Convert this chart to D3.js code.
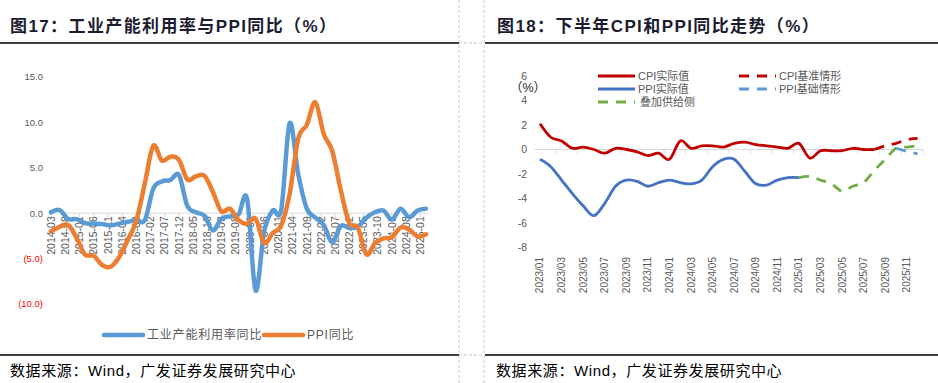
<!DOCTYPE html>
<html>
<head>
<meta charset="utf-8">
<script src="https://cdn.jsdelivr.net/npm/d3@7"></script>
<style>
body { margin: 0; background: #fff; }
svg { display: block; font-family: "Liberation Sans", Arial, "Noto Sans CJK SC", sans-serif; }
</style>
</head>
<body>
<svg id="chart" width="938" height="383"></svg>
<script>

// LEFT CHART DATA (quarterly)
let left_quarters = [
    "2014-03", "2014-06", "2014-09", "2014-12",
    "2015-03", "2015-06", "2015-09", "2015-12",
    "2016-03", "2016-06", "2016-09", "2016-12",
    "2017-03", "2017-06", "2017-09", "2017-12",
    "2018-03", "2018-06", "2018-09", "2018-12",
    "2019-03", "2019-06", "2019-09", "2019-12",
    "2020-03", "2020-06", "2020-09", "2020-12",
    "2021-03", "2021-06", "2021-09", "2021-12",
    "2022-03", "2022-06", "2022-09", "2022-12",
    "2023-03", "2023-06", "2023-09", "2023-12",
    "2024-03", "2024-06", "2024-09", "2024-12",
    "2025-03"
]

let capacity_yoy = [
    0.1, 0.35, -0.65, -0.65,
    -1.1, -1.15, -1.2, -1.35,
    -1.15, -0.95, -0.75, -0.75,
    2.7, 3.5, 3.65, 4.2,
    0.8, 0.1, -0.3, -1.9,
    -0.6, -0.35, -0.15, 1.6,
    -8.5, -2.0, 0.3, 0.4,
    9.9, 4.3, 0.5, -0.5,
    -1.3, -3.2, -1.4, -1.65,
    -1.5, -0.5, 0.1, 0.3,
    -0.7, 0.5, -0.45, 0.3,
    0.5
]

let ppi_yoy_q = [
    -2.0, -1.5, -1.3, -2.73,
    -4.57, -4.67, -5.73, -5.9,
    -4.83, -2.93, -0.8, 3.33,
    7.43, 5.8, 6.23, 5.87,
    3.7, 4.07, 4.1, 2.3,
    0.2, 0.5, -0.77, -1.17,
    -0.6, -3.27, -2.17, -1.33,
    2.13, 8.2, 9.73, 12.23,
    8.73, 6.83, 2.47, -1.1,
    -1.57, -4.53, -3.3, -2.77,
    -2.67, -1.57, -1.8, -2.57,
    -2.33
]

let left_tick_labels = [
    "2014-03", "2014-08", "2015-01", "2015-06", "2015-11", "2016-04", "2016-09",
    "2017-02", "2017-07", "2017-12", "2018-05", "2018-10", "2019-03", "2019-08",
    "2020-01", "2020-06", "2020-11", "2021-04", "2021-09", "2022-02", "2022-07",
    "2022-12", "2023-05", "2023-10", "2024-03", "2024-08", "2025-01"
]

let left_y_ticks = [15, 10, 5, 0, -5, -10]

// RIGHT CHART DATA (monthly)
let right_months = [
    "2023/01", "2023/02", "2023/03", "2023/04", "2023/05", "2023/06",
    "2023/07", "2023/08", "2023/09", "2023/10", "2023/11", "2023/12",
    "2024/01", "2024/02", "2024/03", "2024/04", "2024/05", "2024/06",
    "2024/07", "2024/08", "2024/09", "2024/10", "2024/11", "2024/12",
    "2025/01", "2025/02", "2025/03", "2025/04", "2025/05", "2025/06",
    "2025/07", "2025/08", "2025/09", "2025/10", "2025/11", "2025/12"
]

// CPI实际值 2023/01 - 2025/08
let cpi_actual = [
    2.1, 1.0, 0.7, 0.1, 0.2, 0.0, -0.3, 0.1, 0.0, -0.2, -0.5, -0.3,
    -0.8, 0.7, 0.1, 0.3, 0.3, 0.2, 0.5, 0.6, 0.4, 0.3, 0.2, 0.1,
    0.5, -0.7, -0.1, -0.1, -0.1, 0.1, 0.0, 0.0
]
// CPI基准情形 2025/08 - 2025/12
let cpi_base = [0.0, 0.3, 0.5, 0.8, 0.9]

// PPI实际值 2023/01 - 2025/01
let ppi_actual = [
    -0.8, -1.4, -2.5, -3.6, -4.6, -5.4, -4.4, -3.0, -2.5, -2.6, -3.0, -2.7,
    -2.5, -2.7, -2.8, -2.5, -1.4, -0.8, -0.8, -1.8, -2.8, -2.9, -2.5, -2.3,
    -2.3
]
// 叠加供给侧 2025/01 - 2025/12
let ppi_supply = [-2.3, -2.2, -2.5, -2.8, -3.4, -3.0, -2.7, -1.7, -0.8, 0.1, 0.2, 0.3]
// PPI基础情形 2025/10 - 2025/12
let ppi_base = [0.1, -0.15, -0.35]

let right_tick_labels = [
    "2023/01", "2023/03", "2023/05", "2023/07", "2023/09", "2023/11",
    "2024/01", "2024/03", "2024/05", "2024/07", "2024/09", "2024/11",
    "2025/01", "2025/03", "2025/05", "2025/07", "2025/09", "2025/11"
]

let right_y_ticks = [6, 4, 2, 0, -2, -4, -6, -8]


let svg = d3.select('#chart')

//PANEL FRAMES
function frame(){
    svg.append('g').selectAll('line')
        .data([[459, 0, 459, 383], [484, 0, 484, 383], [459, 43, 484, 43], [459, 355, 484, 355]])
        .join('line')
            .attr('x1', d => d[0]).attr('y1', d => d[1])
            .attr('x2', d => d[2]).attr('y2', d => d[3])
            .attr('stroke', '#c8c8c8')
            .attr('stroke-width', 1)
            .attr('stroke-dasharray', '3,2')

    let rules = [[0, 43, 459], [485, 43, 938], [0, 355, 459], [485, 355, 938]]
    svg.append('g').selectAll('line')
        .data(rules)
        .join('line')
            .attr('x1', d => d[0]).attr('x2', d => d[2])
            .attr('y1', d => d[1]).attr('y2', d => d[1])
            .attr('stroke', '#000')
            .attr('stroke-width', 1.6)

    let titles = [[10, '图17：工业产能利用率与PPI同比（%）'], [497, '图18：下半年CPI和PPI同比走势（%）']]
    svg.append('g').selectAll('text')
        .data(titles)
        .join('text')
            .attr('x', d => d[0])
            .attr('y', 32)
            .attr('font-size', 17)
            .attr('font-weight', 'bold')
            .attr('letter-spacing', 1.4)
            .attr('fill', '#1c1c30')
            .text(d => d[1])

    svg.append('g').selectAll('text')
        .data([10, 496])
        .join('text')
            .attr('x', d => d)
            .attr('y', 376)
            .attr('font-size', 15)
            .attr('letter-spacing', 0.6)
            .attr('fill', '#000')
            .text('数据来源：Wind，广发证券发展研究中心')
}

function left_chart(){

    let parse = d3.timeParse('%Y-%m')

    let x = d3.scaleTime()
        .domain([parse('2014-03'), parse('2025-03')])
        .range([51, 426])

    let y = d3.scaleLinear()
        .domain([-10, 15])
        .range([304, 77])

    let g = svg.append('g')

    //Y-AXIS LABELS
    g.append('g').selectAll('text')
        .data(left_y_ticks)
        .join('text')
            .attr('x', 43)
            .attr('y', d => y(d))
            .attr('dy', '0.35em')
            .attr('text-anchor', 'end')
            .attr('font-size', 9.5)
            .attr('fill', d => d < 0 ? '#ff0000' : '#595959')
            .text(d => d < 0 ? `(${Math.abs(d).toFixed(1)})` : d.toFixed(1))

    //X-AXIS
    g.append('line')
        .attr('x1', 49).attr('x2', 428)
        .attr('y1', y(0)).attr('y2', y(0))
        .attr('stroke', '#d9d9d9')
        .attr('stroke-width', 1)

    g.append('g').selectAll('line')
        .data(left_tick_labels)
        .join('line')
            .attr('x1', d => x(parse(d))).attr('x2', d => x(parse(d)))
            .attr('y1', y(0)).attr('y2', y(0) + 4)
            .attr('stroke', '#d9d9d9')

    g.append('g').selectAll('text')
        .data(left_tick_labels)
        .join('text')
            .attr('transform', d => `translate(${x(parse(d))},${y(0) + 3}) rotate(-90)`)
            .attr('dy', '0.35em')
            .attr('text-anchor', 'end')
            .attr('font-size', 10.5)
            .attr('fill', '#595959')
            .text(d => d)

    //LINES
    let line = d3.line()
        .x((d, i) => x(parse(left_quarters[i])))
        .y(d => y(d))
        .curve(d3.curveCatmullRom.alpha(0))

    let series = [[capacity_yoy, '#5b9bd5'], [ppi_yoy_q, '#ed7d31']]
    g.append('g').selectAll('path')
        .data(series)
        .join('path')
            .attr('d', d => line(d[0]))
            .attr('fill', 'none')
            .attr('stroke', d => d[1])
            .attr('stroke-width', 4.5)
            .attr('stroke-linejoin', 'round')
            .attr('stroke-linecap', 'round')

    //LEGEND
    let legend = [[104, '#5b9bd5', '工业产能利用率同比'], [264, '#ed7d31', 'PPI同比']]
    let lg = g.append('g').selectAll('g')
        .data(legend)
        .join('g')
    lg.append('line')
        .attr('x1', d => d[0]).attr('x2', d => d[0] + 39)
        .attr('y1', 335).attr('y2', 335)
        .attr('stroke', d => d[1])
        .attr('stroke-width', 4.5)
        .attr('stroke-linecap', 'round')
    lg.append('text')
        .attr('x', d => d[0] + 43)
        .attr('y', 335)
        .attr('dy', '0.35em')
        .attr('font-size', 12)
        .attr('letter-spacing', 0.8)
        .attr('fill', '#595959')
        .text(d => d[2])
}

function right_chart(){

    let x = d3.scalePoint()
        .domain(right_months)
        .range([534.6, 923])
        .padding(0.5)

    let y = d3.scaleLinear()
        .domain([-8, 6])
        .range([247.5, 76])

    let g = svg.append('g')

    //Y-AXIS LABELS
    g.append('g').selectAll('text')
        .data(right_y_ticks)
        .join('text')
            .attr('x', 527)
            .attr('y', d => y(d))
            .attr('dy', '0.35em')
            .attr('text-anchor', 'end')
            .attr('font-size', 10.5)
            .attr('fill', '#595959')
            .text(d => d)

    g.append('text')
        .attr('x', 528)
        .attr('y', 88)
        .attr('dy', '0.35em')
        .attr('text-anchor', 'middle')
        .attr('font-size', 12.5)
        .attr('fill', '#262626')
        .text('（%）')

    //X-AXIS
    g.append('line')
        .attr('x1', 534.6).attr('x2', 923)
        .attr('y1', y(0)).attr('y2', y(0))
        .attr('stroke', '#d9d9d9')

    let step = x.step()
    g.append('g').selectAll('line')
        .data(right_tick_labels)
        .join('line')
            .attr('x1', d => x(d) + step * 1.5).attr('x2', d => x(d) + step * 1.5)
            .attr('y1', y(0)).attr('y2', y(0) + 4)
            .attr('stroke', '#d9d9d9')

    g.append('g').selectAll('text')
        .data(right_tick_labels)
        .join('text')
            .attr('transform', d => `translate(${x(d)},257) rotate(-90)`)
            .attr('dy', '0.35em')
            .attr('text-anchor', 'end')
            .attr('font-size', 10)
            .attr('fill', '#595959')
            .text(d => d)

    //LINES
    let line = d3.line()
        .x(d => x(d[0]))
        .y(d => y(d[1]))
        .curve(d3.curveCatmullRom.alpha(0))

    function pairs(values, start){
        let i0 = right_months.indexOf(start)
        return values.map((v, i) => [right_months[i0 + i], v])
    }

    let series = [
        [pairs(cpi_actual, '2023/01'), '#c00000', null],
        [pairs(cpi_base, '2025/08'), '#c00000', '10,8'],
        [pairs(ppi_actual, '2023/01'), '#4472c4', null],
        [pairs(ppi_base, '2025/10'), '#5b9bd5', '10,8'],
        [pairs(ppi_supply, '2025/01'), '#70ad47', '10,8']
    ]

    g.append('g').selectAll('path')
        .data(series)
        .join('path')
            .attr('d', d => line(d[0]))
            .attr('fill', 'none')
            .attr('stroke', d => d[1])
            .attr('stroke-width', 2.8)
            .attr('stroke-dasharray', d => d[2])
            .attr('stroke-linejoin', 'round')

    //LEGEND
    let legend = [
        [598, 76, '#c00000', null, 'CPI实际值'],
        [739, 76, '#c00000', '10,8', 'CPI基准情形'],
        [598, 89, '#4472c4', null, 'PPI实际值'],
        [739, 89, '#5b9bd5', '10,8', 'PPI基础情形'],
        [598, 102, '#70ad47', '10,8', '叠加供给侧']
    ]
    let lg = g.append('g').selectAll('g')
        .data(legend)
        .join('g')
    lg.append('line')
        .attr('x1', d => d[0]).attr('x2', d => d[0] + 37)
        .attr('y1', d => d[1]).attr('y2', d => d[1])
        .attr('stroke', d => d[2])
        .attr('stroke-width', 2.8)
        .attr('stroke-dasharray', d => d[3])
    lg.append('text')
        .attr('x', d => d[0] + (d[4] == '叠加供给侧' ? 42 : 40))
        .attr('y', d => d[1])
        .attr('dy', '0.35em')
        .attr('font-size', 11)
        .attr('fill', '#595959')
        .text(d => d[4])
}

frame()
left_chart()
right_chart()

</script>
</body>
</html>
